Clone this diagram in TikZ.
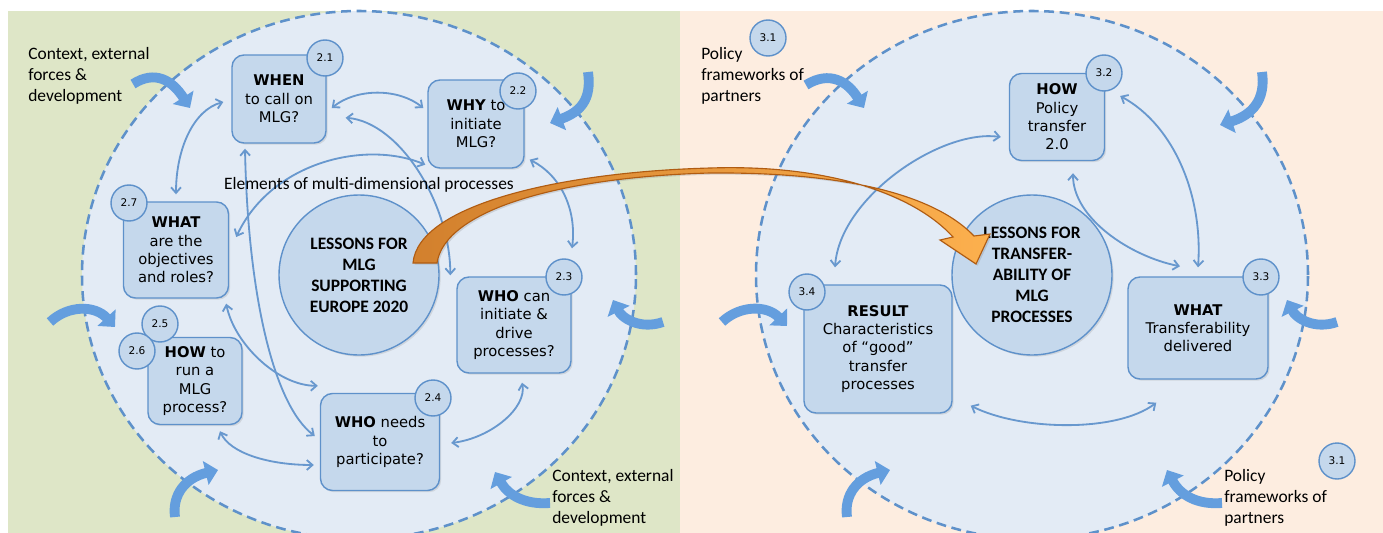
\documentclass[tikz,border=0pt]{standalone}
\usepackage{fontspec}
\setmainfont{Carlito}
\newfontfamily\verd{DejaVu Sans}
\usepackage{xcolor}
\usepackage{tikz}
\usetikzlibrary{arrows.meta}
\usetikzlibrary{shadows}
\newdimen\pxu \pxu=0.025cm
\definecolor{bggreen}{RGB}{222,230,199}
\definecolor{bgpeach}{RGB}{253,237,224}
\definecolor{ringfill}{RGB}{227,235,245}
\definecolor{boxfill}{RGB}{197,216,236}
\definecolor{edgeblue}{RGB}{94,145,202}
\definecolor{linkblue}{RGB}{104,152,206}
\definecolor{swoopblue}{RGB}{100,158,222}
\definecolor{orangedark}{RGB}{210,128,45}
\definecolor{orangelight}{RGB}{252,176,78}
\definecolor{orangeedge}{RGB}{176,92,18}

\begin{document}
\begin{tikzpicture}[x=1\pxu, y=-1\pxu,
  zone/.style={draw=edgeblue, line width=1.8pt, dash pattern=on 7pt off 4pt, fill=ringfill},
  qbox/.style={draw=edgeblue, line width=1pt, fill=boxfill, rounded corners=12\pxu, align=center, inner sep=2pt, font=\verd\fontsize{10.5}{13}\selectfont, drop shadow={shadow xshift=1.2pt, shadow yshift=-1.2pt, opacity=0.2}},
  numdot/.style={circle, draw=edgeblue, line width=1pt, fill=boxfill, minimum size=36\pxu, inner sep=0pt, font=\verd\fontsize{7.5}{9}\selectfont},
  lessondisc/.style={circle, draw=edgeblue, line width=1pt, fill=boxfill, minimum size=160\pxu, inner sep=0pt, align=center, font=\bfseries\fontsize{12.4}{14.9}\selectfont, drop shadow={shadow xshift=1.2pt, shadow yshift=-1.2pt, opacity=0.2}},
  sidenote/.style={anchor=west, align=left, inner sep=0pt, font=\fontsize{12.4}{14.9}\selectfont},
  linkarc/.style={draw=linkblue, line width=1.3pt, {Straight Barb[length=4pt,width=7pt]}-{Straight Barb[length=4pt,width=7pt]}},
  swoop/.style={draw=swoopblue, line width=7pt, -{Triangle[width=17pt,length=9pt]}}]
  \useasboundingbox (0,0) rectangle (1383,533);
  \fill[white] (0,0) rectangle (1383,533);
  \fill[bggreen] (8,11) rectangle (680,533);
  \fill[bgpeach] (680,11) rectangle (1383,533);
  \draw[zone] (359,275) ellipse [x radius=277\pxu, y radius=264\pxu];
  \draw[zone] (1032,275) ellipse [x radius=276\pxu, y radius=264\pxu];

  \node[lessondisc] (lessonsl) at (359,275) {LESSONS FOR\\MLG\\SUPPORTING\\EUROPE 2020};
  \node[lessondisc] (lessonsr) at (1032,275) {LESSONS FOR\\TRANSFER-\\ABILITY OF\\MLG\\PROCESSES};

  \node[qbox, minimum width=94\pxu, minimum height=88\pxu] (when) at (279,99) {\textbf{WHEN}\\to call on\\MLG?};
  \node[qbox, minimum width=96\pxu, minimum height=88\pxu] (why) at (476,124) {\textbf{WHY} to\\initiate\\MLG?};
  \node[qbox, minimum width=105\pxu, minimum height=96\pxu] (whatobj) at (176,250) {\textbf{WHAT}\\are the\\objectives\\and roles?};
  \node[qbox, minimum width=94\pxu, minimum height=87\pxu] (howrun) at (195,381) {\textbf{HOW} to\\run a\\MLG\\process?};
  \node[qbox, minimum width=114\pxu, minimum height=96\pxu] (whocan) at (514,325) {\textbf{WHO} can\\initiate \&\\drive\\processes?};
  \node[qbox, minimum width=119\pxu, minimum height=97\pxu] (whoneeds) at (380,442) {\textbf{WHO} needs\\to\\participate?};
  \node[qbox, minimum width=95\pxu, minimum height=87\pxu] (howpt) at (1057,117) {\textbf{HOW}\\Policy\\transfer\\2.0};
  \node[qbox, minimum width=148\pxu, minimum height=128\pxu] (whatres) at (878,349) {\textbf{RESULT}\\Characteristics\\of “good”\\transfer\\processes};
  \node[qbox, minimum width=140\pxu, minimum height=102\pxu] (whatdel) at (1198,328) {\textbf{WHAT}\\Transferability\\delivered};

  \node[numdot] (n21) at (325,58) {2.1};
  \node[numdot] (n22) at (518,91) {2.2};
  \node[numdot] (n23) at (564,277) {2.3};
  \node[numdot] (n24) at (433,398) {2.4};
  \node[numdot] (n25) at (160,324) {2.5};
  \node[numdot] (n26) at (137,351) {2.6};
  \node[numdot] (n27) at (129,203) {2.7};
  \node[numdot] (n31a) at (768,38) {3.1};
  \node[numdot] (n32) at (1104,73) {3.2};
  \node[numdot] (n33) at (1261,277) {3.3};
  \node[numdot] (n34) at (807,292) {3.4};
  \node[numdot] (n31b) at (1337,461) {3.1};

  \draw[linkarc] ([shift={(-8,3)}]when.west) .. controls +(-30,8) and +(0,-45) .. ([shift={(0,-7)}]whatobj.north);
  \draw[linkarc] ([shift={(5,9)}]when.east) .. controls +(25,-20) and +(-25,-20) .. ([shift={(-4,-16)}]why.west);
  \draw[linkarc] ([shift={(-34,5)}]when.south) .. controls +(3,150) and +(-40,-30) .. ([shift={(-5,-6)}]whoneeds.west);
  \draw[linkarc] ([shift={(-3,5)}]whatobj.south east) .. controls +(8,40) and +(-40,0) .. ([shift={(-2,-7)}]whoneeds.north west);
  \draw[linkarc] ([shift={(25,6)}]howrun.south) .. controls +(10,22) and +(-45,0) .. ([shift={(-6,23)}]whoneeds.west);
  \draw[linkarc] ([shift={(11,1)}]whoneeds.east) .. controls +(40,-5) and +(5,25) .. ([shift={(8,9)}]whocan.south);
  \draw[linkarc] ([shift={(5,-9)}]why.south east) .. controls +(30,15) and +(5,-40) .. ([shift={(8,-10)}]n23.north);
  \draw[linkarc] ([shift={(7,-13)}]whatobj.east) .. controls +(35,-75) and +(-60,-25) .. ([shift={(-2,-4)}]why.south west);
  \draw[linkarc] ([shift={(19,-26)}]when.south east) .. controls +(55,5) and +(0,-70) .. ([shift={(-6,-1)}]whocan.north west);

  \draw[linkarc] ([shift={(-8,20)}]howpt.west) .. controls +(-60,-8) and +(5,-70) .. ([shift={(-43,-17)}]whatres.north);
  \draw[linkarc] ([shift={(15,-21)}]howpt.east) .. controls +(55,30) and +(5,-70) .. ([shift={(0,-9)}]whatdel.north);
  \draw[linkarc] ([shift={(16,12)}]howpt.south) .. controls +(0,45) and +(-50,-10) .. ([shift={(-18,-10)}]whatdel.north);
  \draw[linkarc] ([shift={(18,-8)}]whatres.south east) .. controls +(50,25) and +(-40,30) .. ([shift={(29,23)}]whatdel.south west);

  \node[font=\fontsize{12.4}{14.9}\selectfont, inner sep=1pt] (elem) at (369,185) {Elements of multi-dimensional processes};
  \node[sidenote] (ctxa) at (28,76) {Context, external\\forces \&\\development};
  \node[sidenote] (ctxb) at (552,498) {Context, external\\forces \&\\development};
  \node[sidenote] (pola) at (701,76) {Policy\\frameworks of\\partners};
  \node[sidenote] (polb) at (1224,498) {Policy\\frameworks of\\partners};

  \draw[swoop] (133,84) .. controls (155,70) and (172,80) .. (190,108);
  \draw[swoop] (588,72) .. controls (592,100) and (580,112) .. (550,123);
  \draw[swoop] (663,322) .. controls (640,330) and (622,318) .. (613,300);
  \draw[swoop] (550,503) .. controls (525,505) and (508,495) .. (495,472);
  \draw[swoop] (175,517) .. controls (172,495) and (185,478) .. (218,470);
  \draw[swoop] (50,322) .. controls (68,305) and (95,305) .. (115,327);
  \draw[swoop] (806,85) .. controls (830,70) and (848,82) .. (864,108);
  \draw[swoop] (1262,72) .. controls (1266,100) and (1252,115) .. (1220,125);
  \draw[swoop] (1337,322) .. controls (1314,330) and (1296,318) .. (1287,300);
  \draw[swoop] (1222,503) .. controls (1197,505) and (1180,495) .. (1167,470);
  \draw[swoop] (847,517) .. controls (844,495) and (857,478) .. (890,470);
  \draw[swoop] (722,322) .. controls (740,305) and (767,305) .. (787,326);

  \draw[orangeedge, line width=0.8pt, left color=orangedark, right color=orangelight, drop shadow={shadow xshift=1.2pt, shadow yshift=-1.2pt, opacity=0.25}]
    (413,263) .. controls (418,205) and (560,172) .. (710,168) .. controls (830,164) and (915,195) .. (953,237)
    -- (940,240) -- (976,264) -- (990,234) -- (974,236)
    .. controls (930,190) and (830,172) .. (710,173) .. controls (560,177) and (445,210) .. (437,263) -- cycle;
\end{tikzpicture}
\end{document}
